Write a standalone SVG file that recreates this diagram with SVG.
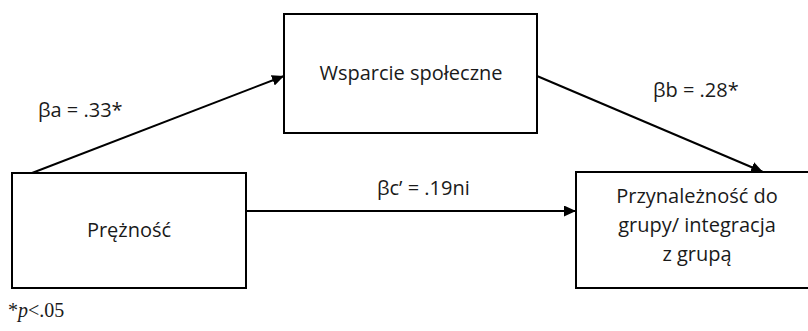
<svg xmlns="http://www.w3.org/2000/svg" width="808" height="331" viewBox="0 0 808 331">
  <style>
    .box { fill: #ffffff; stroke: #000000; stroke-width: 2; }
    .edge { fill: none; stroke: #000000; stroke-width: 2; }
    .lbl { font-family: "Open Sans", "Liberation Sans", sans-serif; font-size: 20px; fill: #1a1a1a; }
    .mid { text-anchor: middle; }
    .note { font-family: "Liberation Serif", serif; font-size: 20px; fill: #1a1a1a; }
  </style>
  <defs>
    <marker id="arrow" markerUnits="userSpaceOnUse" markerWidth="12" markerHeight="11" refX="12" refY="5.5" orient="auto">
      <path d="M0,0 L12,5.5 L0,11 Z" fill="#000000"/>
    </marker>
  </defs>

  <rect width="808" height="331" fill="#ffffff"/>

  <!-- connectors -->
  <g id="connectors">
    <line class="edge" x1="32" y1="173" x2="284" y2="76" marker-end="url(#arrow)"/>
    <line class="edge" x1="537" y1="76" x2="763" y2="172" marker-end="url(#arrow)"/>
    <line class="edge" x1="246" y1="211" x2="576" y2="211" marker-end="url(#arrow)"/>
    <text class="lbl" x="38" y="117">βa = .33*</text>
    <text class="lbl" x="653" y="97">βb = .28*</text>
    <text class="lbl" x="377" y="195">βc’ = .19ni</text>
  </g>

  <!-- nodes -->
  <g id="node-wsparcie">
    <rect class="box" x="284" y="14" width="253" height="119"/>
    <text class="lbl mid" x="411" y="80">Wsparcie społeczne</text>
  </g>

  <g id="node-preznosc">
    <rect class="box" x="12" y="173" width="234" height="115"/>
    <text class="lbl mid" x="129" y="237">Prężność</text>
  </g>

  <g id="node-przynaleznosc">
    <rect class="box" x="576" y="172" width="234" height="116"/>
    <text class="lbl mid" x="697" y="203">Przynależność do</text>
    <text class="lbl mid" x="697" y="232">grupy/ integracja</text>
    <text class="lbl mid" x="697" y="261">z grupą</text>
  </g>

  <!-- significance note -->
  <text class="note" x="8" y="317">*<tspan font-style="italic">p</tspan>&lt;.05</text>
</svg>
